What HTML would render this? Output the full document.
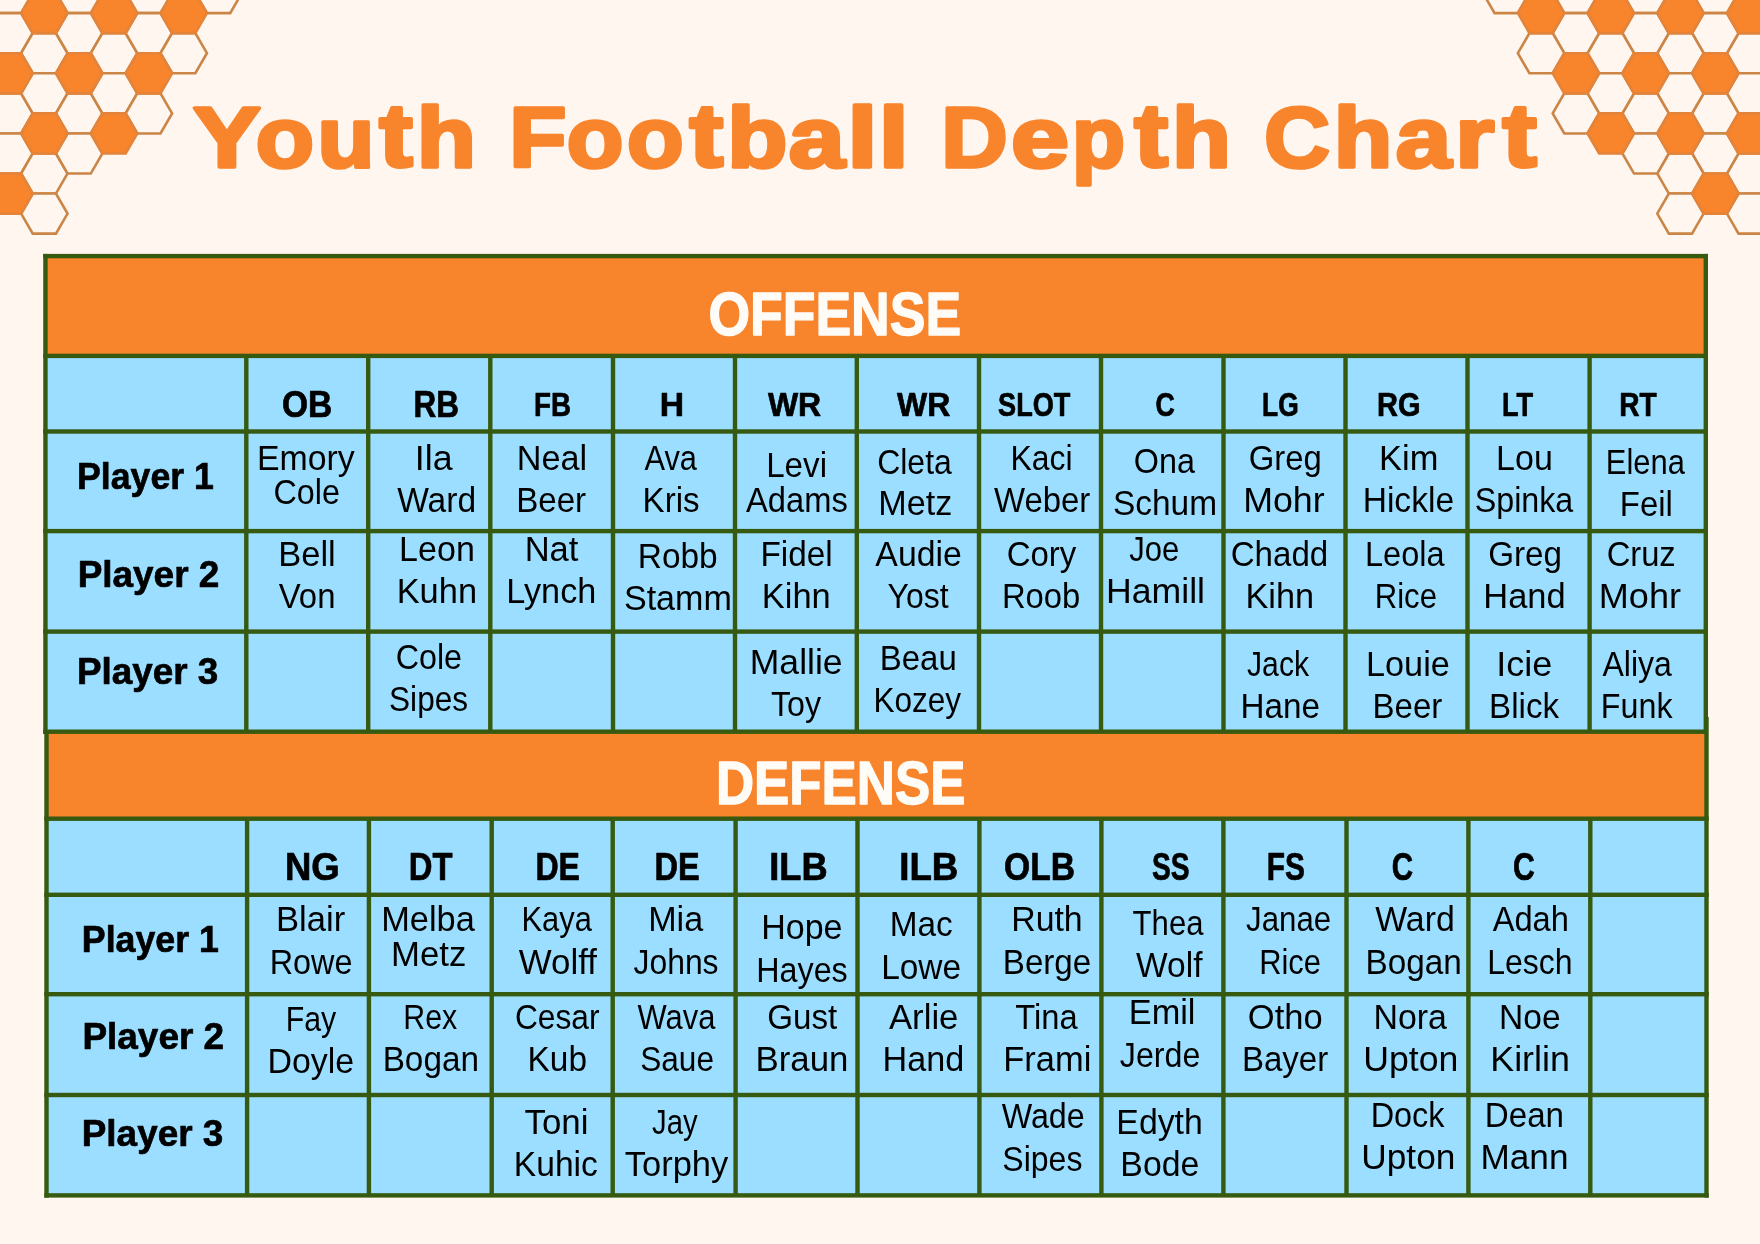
<!DOCTYPE html>
<html><head><meta charset="utf-8"><title>Youth Football Depth Chart</title>
<style>
html,body{margin:0;padding:0;background:#fef6ef;}
body{width:1760px;height:1244px;overflow:hidden;font-family:"Liberation Sans",sans-serif;}
svg{display:block;will-change:transform;}
</style></head><body>
<svg width="1760" height="1244" viewBox="0 0 1760 1244" font-family="Liberation Sans">
<rect x="0" y="0" width="1760" height="1244" fill="#fef6ef"/>
<g stroke="#cb8647" stroke-width="2.6" stroke-linejoin="miter">
<polygon points="-48.55,53.20 -36.95,33.15 -13.75,33.15 -2.15,53.20 -13.75,73.25 -36.95,73.25" fill="#fef6ef"/>
<polygon points="1726.95,53.20 1738.55,33.15 1761.75,33.15 1773.35,53.20 1761.75,73.25 1738.55,73.25" fill="#fef6ef"/>
<polygon points="-48.55,93.30 -36.95,73.25 -13.75,73.25 -2.15,93.30 -13.75,113.35 -36.95,113.35" fill="#fef6ef"/>
<polygon points="1726.95,93.30 1738.55,73.25 1761.75,73.25 1773.35,93.30 1761.75,113.35 1738.55,113.35" fill="#fef6ef"/>
<polygon points="-48.55,173.50 -36.95,153.45 -13.75,153.45 -2.15,173.50 -13.75,193.55 -36.95,193.55" fill="#fef6ef"/>
<polygon points="1726.95,173.50 1738.55,153.45 1761.75,153.45 1773.35,173.50 1761.75,193.55 1738.55,193.55" fill="#fef6ef"/>
<polygon points="-48.55,213.60 -36.95,193.55 -13.75,193.55 -2.15,213.60 -13.75,233.65 -36.95,233.65" fill="#fef6ef"/>
<polygon points="1726.95,213.60 1738.55,193.55 1761.75,193.55 1773.35,213.60 1761.75,233.65 1738.55,233.65" fill="#fef6ef"/>
<polygon points="-13.70,-6.90 -2.10,-26.95 21.10,-26.95 32.70,-6.90 21.10,13.15 -2.10,13.15" fill="#fef6ef"/>
<polygon points="1692.10,-6.90 1703.70,-26.95 1726.90,-26.95 1738.50,-6.90 1726.90,13.15 1703.70,13.15" fill="#fef6ef"/>
<polygon points="-13.70,33.20 -2.10,13.15 21.10,13.15 32.70,33.20 21.10,53.25 -2.10,53.25" fill="#fef6ef"/>
<polygon points="1692.10,33.20 1703.70,13.15 1726.90,13.15 1738.50,33.20 1726.90,53.25 1703.70,53.25" fill="#fef6ef"/>
<polygon points="-13.70,113.40 -2.10,93.35 21.10,93.35 32.70,113.40 21.10,133.45 -2.10,133.45" fill="#fef6ef"/>
<polygon points="1692.10,113.40 1703.70,93.35 1726.90,93.35 1738.50,113.40 1726.90,133.45 1703.70,133.45" fill="#fef6ef"/>
<polygon points="-13.70,153.50 -2.10,133.45 21.10,133.45 32.70,153.50 21.10,173.55 -2.10,173.55" fill="#fef6ef"/>
<polygon points="1692.10,153.50 1703.70,133.45 1726.90,133.45 1738.50,153.50 1726.90,173.55 1703.70,173.55" fill="#fef6ef"/>
<polygon points="21.15,53.20 32.75,33.15 55.95,33.15 67.55,53.20 55.95,73.25 32.75,73.25" fill="#fef6ef"/>
<polygon points="1657.25,53.20 1668.85,33.15 1692.05,33.15 1703.65,53.20 1692.05,73.25 1668.85,73.25" fill="#fef6ef"/>
<polygon points="21.15,93.30 32.75,73.25 55.95,73.25 67.55,93.30 55.95,113.35 32.75,113.35" fill="#fef6ef"/>
<polygon points="1657.25,93.30 1668.85,73.25 1692.05,73.25 1703.65,93.30 1692.05,113.35 1668.85,113.35" fill="#fef6ef"/>
<polygon points="21.15,173.50 32.75,153.45 55.95,153.45 67.55,173.50 55.95,193.55 32.75,193.55" fill="#fef6ef"/>
<polygon points="1657.25,173.50 1668.85,153.45 1692.05,153.45 1703.65,173.50 1692.05,193.55 1668.85,193.55" fill="#fef6ef"/>
<polygon points="21.15,213.60 32.75,193.55 55.95,193.55 67.55,213.60 55.95,233.65 32.75,233.65" fill="#fef6ef"/>
<polygon points="1657.25,213.60 1668.85,193.55 1692.05,193.55 1703.65,213.60 1692.05,233.65 1668.85,233.65" fill="#fef6ef"/>
<polygon points="56.00,-6.90 67.60,-26.95 90.80,-26.95 102.40,-6.90 90.80,13.15 67.60,13.15" fill="#fef6ef"/>
<polygon points="1622.40,-6.90 1634.00,-26.95 1657.20,-26.95 1668.80,-6.90 1657.20,13.15 1634.00,13.15" fill="#fef6ef"/>
<polygon points="56.00,33.20 67.60,13.15 90.80,13.15 102.40,33.20 90.80,53.25 67.60,53.25" fill="#fef6ef"/>
<polygon points="1622.40,33.20 1634.00,13.15 1657.20,13.15 1668.80,33.20 1657.20,53.25 1634.00,53.25" fill="#fef6ef"/>
<polygon points="56.00,113.40 67.60,93.35 90.80,93.35 102.40,113.40 90.80,133.45 67.60,133.45" fill="#fef6ef"/>
<polygon points="1622.40,113.40 1634.00,93.35 1657.20,93.35 1668.80,113.40 1657.20,133.45 1634.00,133.45" fill="#fef6ef"/>
<polygon points="56.00,153.50 67.60,133.45 90.80,133.45 102.40,153.50 90.80,173.55 67.60,173.55" fill="#fef6ef"/>
<polygon points="1622.40,153.50 1634.00,133.45 1657.20,133.45 1668.80,153.50 1657.20,173.55 1634.00,173.55" fill="#fef6ef"/>
<polygon points="90.85,53.20 102.45,33.15 125.65,33.15 137.25,53.20 125.65,73.25 102.45,73.25" fill="#fef6ef"/>
<polygon points="1587.55,53.20 1599.15,33.15 1622.35,33.15 1633.95,53.20 1622.35,73.25 1599.15,73.25" fill="#fef6ef"/>
<polygon points="90.85,93.30 102.45,73.25 125.65,73.25 137.25,93.30 125.65,113.35 102.45,113.35" fill="#fef6ef"/>
<polygon points="1587.55,93.30 1599.15,73.25 1622.35,73.25 1633.95,93.30 1622.35,113.35 1599.15,113.35" fill="#fef6ef"/>
<polygon points="125.70,-6.90 137.30,-26.95 160.50,-26.95 172.10,-6.90 160.50,13.15 137.30,13.15" fill="#fef6ef"/>
<polygon points="1552.70,-6.90 1564.30,-26.95 1587.50,-26.95 1599.10,-6.90 1587.50,13.15 1564.30,13.15" fill="#fef6ef"/>
<polygon points="125.70,33.20 137.30,13.15 160.50,13.15 172.10,33.20 160.50,53.25 137.30,53.25" fill="#fef6ef"/>
<polygon points="1552.70,33.20 1564.30,13.15 1587.50,13.15 1599.10,33.20 1587.50,53.25 1564.30,53.25" fill="#fef6ef"/>
<polygon points="125.70,113.40 137.30,93.35 160.50,93.35 172.10,113.40 160.50,133.45 137.30,133.45" fill="#fef6ef"/>
<polygon points="1552.70,113.40 1564.30,93.35 1587.50,93.35 1599.10,113.40 1587.50,133.45 1564.30,133.45" fill="#fef6ef"/>
<polygon points="160.55,53.20 172.15,33.15 195.35,33.15 206.95,53.20 195.35,73.25 172.15,73.25" fill="#fef6ef"/>
<polygon points="1517.85,53.20 1529.45,33.15 1552.65,33.15 1564.25,53.20 1552.65,73.25 1529.45,73.25" fill="#fef6ef"/>
<polygon points="195.40,-6.90 207.00,-26.95 230.20,-26.95 241.80,-6.90 230.20,13.15 207.00,13.15" fill="#fef6ef"/>
<polygon points="1483.00,-6.90 1494.60,-26.95 1517.80,-26.95 1529.40,-6.90 1517.80,13.15 1494.60,13.15" fill="#fef6ef"/>
<polygon points="-48.55,13.10 -36.95,-6.95 -13.75,-6.95 -2.15,13.10 -13.75,33.15 -36.95,33.15" fill="#f8842c" stroke="#e3843a"/>
<polygon points="1726.95,13.10 1738.55,-6.95 1761.75,-6.95 1773.35,13.10 1761.75,33.15 1738.55,33.15" fill="#f8842c" stroke="#e3843a"/>
<polygon points="-48.55,133.40 -36.95,113.35 -13.75,113.35 -2.15,133.40 -13.75,153.45 -36.95,153.45" fill="#f8842c" stroke="#e3843a"/>
<polygon points="1726.95,133.40 1738.55,113.35 1761.75,113.35 1773.35,133.40 1761.75,153.45 1738.55,153.45" fill="#f8842c" stroke="#e3843a"/>
<polygon points="-13.70,73.30 -2.10,53.25 21.10,53.25 32.70,73.30 21.10,93.35 -2.10,93.35" fill="#f8842c" stroke="#e3843a"/>
<polygon points="1692.10,73.30 1703.70,53.25 1726.90,53.25 1738.50,73.30 1726.90,93.35 1703.70,93.35" fill="#f8842c" stroke="#e3843a"/>
<polygon points="-13.70,193.60 -2.10,173.55 21.10,173.55 32.70,193.60 21.10,213.65 -2.10,213.65" fill="#f8842c" stroke="#e3843a"/>
<polygon points="1692.10,193.60 1703.70,173.55 1726.90,173.55 1738.50,193.60 1726.90,213.65 1703.70,213.65" fill="#f8842c" stroke="#e3843a"/>
<polygon points="21.15,13.10 32.75,-6.95 55.95,-6.95 67.55,13.10 55.95,33.15 32.75,33.15" fill="#f8842c" stroke="#e3843a"/>
<polygon points="1657.25,13.10 1668.85,-6.95 1692.05,-6.95 1703.65,13.10 1692.05,33.15 1668.85,33.15" fill="#f8842c" stroke="#e3843a"/>
<polygon points="21.15,133.40 32.75,113.35 55.95,113.35 67.55,133.40 55.95,153.45 32.75,153.45" fill="#f8842c" stroke="#e3843a"/>
<polygon points="1657.25,133.40 1668.85,113.35 1692.05,113.35 1703.65,133.40 1692.05,153.45 1668.85,153.45" fill="#f8842c" stroke="#e3843a"/>
<polygon points="56.00,73.30 67.60,53.25 90.80,53.25 102.40,73.30 90.80,93.35 67.60,93.35" fill="#f8842c" stroke="#e3843a"/>
<polygon points="1622.40,73.30 1634.00,53.25 1657.20,53.25 1668.80,73.30 1657.20,93.35 1634.00,93.35" fill="#f8842c" stroke="#e3843a"/>
<polygon points="90.85,13.10 102.45,-6.95 125.65,-6.95 137.25,13.10 125.65,33.15 102.45,33.15" fill="#f8842c" stroke="#e3843a"/>
<polygon points="1587.55,13.10 1599.15,-6.95 1622.35,-6.95 1633.95,13.10 1622.35,33.15 1599.15,33.15" fill="#f8842c" stroke="#e3843a"/>
<polygon points="90.85,133.40 102.45,113.35 125.65,113.35 137.25,133.40 125.65,153.45 102.45,153.45" fill="#f8842c" stroke="#e3843a"/>
<polygon points="1587.55,133.40 1599.15,113.35 1622.35,113.35 1633.95,133.40 1622.35,153.45 1599.15,153.45" fill="#f8842c" stroke="#e3843a"/>
<polygon points="125.70,73.30 137.30,53.25 160.50,53.25 172.10,73.30 160.50,93.35 137.30,93.35" fill="#f8842c" stroke="#e3843a"/>
<polygon points="1552.70,73.30 1564.30,53.25 1587.50,53.25 1599.10,73.30 1587.50,93.35 1564.30,93.35" fill="#f8842c" stroke="#e3843a"/>
<polygon points="160.55,13.10 172.15,-6.95 195.35,-6.95 206.95,13.10 195.35,33.15 172.15,33.15" fill="#f8842c" stroke="#e3843a"/>
<polygon points="1517.85,13.10 1529.45,-6.95 1552.65,-6.95 1564.25,13.10 1552.65,33.15 1529.45,33.15" fill="#f8842c" stroke="#e3843a"/>
</g>
<rect x="45.45" y="256.10" width="1660.35" height="99.80" fill="#f8842c"/>
<rect x="45.45" y="355.90" width="1660.35" height="375.80" fill="#9cdeff"/>
<rect x="46.50" y="731.70" width="1660.00" height="87.00" fill="#f8842c"/>
<rect x="46.50" y="818.70" width="1660.00" height="376.70" fill="#9cdeff"/>
<rect x="43.25" y="253.90" width="1664.75" height="4.40" fill="#355a10"/>
<rect x="43.25" y="353.70" width="1664.75" height="4.40" fill="#355a10"/>
<rect x="43.25" y="429.30" width="1664.75" height="4.40" fill="#355a10"/>
<rect x="43.25" y="528.90" width="1664.75" height="4.40" fill="#355a10"/>
<rect x="43.25" y="629.40" width="1664.75" height="4.40" fill="#355a10"/>
<rect x="43.25" y="729.50" width="1664.75" height="4.40" fill="#355a10"/>
<rect x="43.25" y="253.90" width="4.40" height="480.00" fill="#355a10"/>
<rect x="1703.60" y="253.90" width="4.40" height="480.00" fill="#355a10"/>
<rect x="244.10" y="355.90" width="4.40" height="375.80" fill="#355a10"/>
<rect x="366.00" y="355.90" width="4.40" height="375.80" fill="#355a10"/>
<rect x="488.10" y="355.90" width="4.40" height="375.80" fill="#355a10"/>
<rect x="610.80" y="355.90" width="4.40" height="375.80" fill="#355a10"/>
<rect x="732.80" y="355.90" width="4.40" height="375.80" fill="#355a10"/>
<rect x="854.60" y="355.90" width="4.40" height="375.80" fill="#355a10"/>
<rect x="976.80" y="355.90" width="4.40" height="375.80" fill="#355a10"/>
<rect x="1098.80" y="355.90" width="4.40" height="375.80" fill="#355a10"/>
<rect x="1221.30" y="355.90" width="4.40" height="375.80" fill="#355a10"/>
<rect x="1343.30" y="355.90" width="4.40" height="375.80" fill="#355a10"/>
<rect x="1465.30" y="355.90" width="4.40" height="375.80" fill="#355a10"/>
<rect x="1587.40" y="355.90" width="4.40" height="375.80" fill="#355a10"/>
<rect x="44.30" y="816.50" width="1664.40" height="4.40" fill="#355a10"/>
<rect x="44.30" y="892.60" width="1664.40" height="4.40" fill="#355a10"/>
<rect x="44.30" y="992.00" width="1664.40" height="4.40" fill="#355a10"/>
<rect x="44.30" y="1092.80" width="1664.40" height="4.40" fill="#355a10"/>
<rect x="44.30" y="1193.20" width="1664.40" height="4.40" fill="#355a10"/>
<rect x="44.30" y="731.70" width="4.40" height="465.90" fill="#355a10"/>
<rect x="1704.30" y="717.00" width="4.40" height="480.60" fill="#355a10"/>
<rect x="244.90" y="818.70" width="4.40" height="376.70" fill="#355a10"/>
<rect x="366.70" y="818.70" width="4.40" height="376.70" fill="#355a10"/>
<rect x="489.50" y="818.70" width="4.40" height="376.70" fill="#355a10"/>
<rect x="610.50" y="818.70" width="4.40" height="376.70" fill="#355a10"/>
<rect x="733.40" y="818.70" width="4.40" height="376.70" fill="#355a10"/>
<rect x="855.30" y="818.70" width="4.40" height="376.70" fill="#355a10"/>
<rect x="977.20" y="818.70" width="4.40" height="376.70" fill="#355a10"/>
<rect x="1099.20" y="818.70" width="4.40" height="376.70" fill="#355a10"/>
<rect x="1221.20" y="818.70" width="4.40" height="376.70" fill="#355a10"/>
<rect x="1344.30" y="818.70" width="4.40" height="376.70" fill="#355a10"/>
<rect x="1466.20" y="818.70" width="4.40" height="376.70" fill="#355a10"/>
<rect x="1588.10" y="818.70" width="4.40" height="376.70" fill="#355a10"/>
<g font-family="Liberation Sans" font-weight="bold" fill="#f8842c" stroke="#f8842c" stroke-width="3.60" stroke-linejoin="round">
<text x="193.06" y="166.50" font-size="85.90" textLength="67.77" lengthAdjust="spacingAndGlyphs" font-weight="bold">Y</text>
<text x="255.77" y="166.50" font-size="85.90" textLength="58.25" lengthAdjust="spacingAndGlyphs" font-weight="bold">o</text>
<text x="317.42" y="166.50" font-size="85.90" textLength="56.92" lengthAdjust="spacingAndGlyphs" font-weight="bold">u</text>
<text x="379.17" y="166.50" font-size="85.90" textLength="33.45" lengthAdjust="spacingAndGlyphs" font-weight="bold" transform="matrix(1 0 0 1.045 0 -7.492)">t</text>
<text x="416.82" y="166.50" font-size="85.90" textLength="59.30" lengthAdjust="spacingAndGlyphs" font-weight="bold">h</text>
<text x="509.34" y="166.50" font-size="85.90" textLength="57.19" lengthAdjust="spacingAndGlyphs" font-weight="bold">F</text>
<text x="566.88" y="166.50" font-size="85.90" textLength="56.64" lengthAdjust="spacingAndGlyphs" font-weight="bold">o</text>
<text x="627.08" y="166.50" font-size="85.90" textLength="56.64" lengthAdjust="spacingAndGlyphs" font-weight="bold">o</text>
<text x="689.56" y="166.50" font-size="85.90" textLength="33.78" lengthAdjust="spacingAndGlyphs" font-weight="bold" transform="matrix(1 0 0 1.045 0 -7.492)">t</text>
<text x="727.31" y="166.50" font-size="85.90" textLength="60.13" lengthAdjust="spacingAndGlyphs" font-weight="bold">b</text>
<text x="788.85" y="166.50" font-size="85.90" textLength="56.01" lengthAdjust="spacingAndGlyphs" font-weight="bold">a</text>
<text x="847.37" y="166.50" font-size="85.90" textLength="30.37" lengthAdjust="spacingAndGlyphs" font-weight="bold">l</text>
<text x="878.47" y="166.50" font-size="85.90" textLength="30.37" lengthAdjust="spacingAndGlyphs" font-weight="bold">l</text>
<text x="941.15" y="166.50" font-size="85.90" textLength="66.41" lengthAdjust="spacingAndGlyphs" font-weight="bold">D</text>
<text x="1011.02" y="166.50" font-size="85.90" textLength="58.04" lengthAdjust="spacingAndGlyphs" font-weight="bold">e</text>
<text x="1071.88" y="166.50" font-size="85.90" textLength="52.97" lengthAdjust="spacingAndGlyphs" font-weight="bold">p</text>
<text x="1134.16" y="166.50" font-size="85.90" textLength="33.78" lengthAdjust="spacingAndGlyphs" font-weight="bold" transform="matrix(1 0 0 1.045 0 -7.492)">t</text>
<text x="1171.97" y="166.50" font-size="85.90" textLength="58.92" lengthAdjust="spacingAndGlyphs" font-weight="bold">h</text>
<text x="1264.27" y="166.50" font-size="85.90" textLength="65.72" lengthAdjust="spacingAndGlyphs" font-weight="bold">C</text>
<text x="1333.71" y="166.50" font-size="85.90" textLength="58.53" lengthAdjust="spacingAndGlyphs" font-weight="bold">h</text>
<text x="1395.78" y="166.50" font-size="85.90" textLength="55.49" lengthAdjust="spacingAndGlyphs" font-weight="bold">a</text>
<text x="1455.17" y="166.50" font-size="85.90" textLength="39.16" lengthAdjust="spacingAndGlyphs" font-weight="bold">r</text>
<text x="1502.45" y="166.50" font-size="85.90" textLength="34.21" lengthAdjust="spacingAndGlyphs" font-weight="bold" transform="matrix(1 0 0 1.045 0 -7.492)">t</text>
</g>
<g font-family="Liberation Sans" fill="#000">
<text x="257.02" y="469.80" font-size="34.70" textLength="97.74" lengthAdjust="spacingAndGlyphs">Emory</text>
<text x="273.56" y="504.40" font-size="34.70" textLength="66.37" lengthAdjust="spacingAndGlyphs">Cole</text>
<text x="414.80" y="469.80" font-size="34.70" textLength="37.80" lengthAdjust="spacingAndGlyphs">Ila</text>
<text x="397.15" y="512.40" font-size="34.70" textLength="78.98" lengthAdjust="spacingAndGlyphs">Ward</text>
<text x="516.69" y="469.80" font-size="34.70" textLength="70.40" lengthAdjust="spacingAndGlyphs">Neal</text>
<text x="516.18" y="512.40" font-size="34.70" textLength="69.97" lengthAdjust="spacingAndGlyphs">Beer</text>
<text x="644.44" y="469.80" font-size="34.70" textLength="52.56" lengthAdjust="spacingAndGlyphs">Ava</text>
<text x="642.58" y="512.40" font-size="34.70" textLength="57.01" lengthAdjust="spacingAndGlyphs">Kris</text>
<text x="766.18" y="476.70" font-size="34.70" textLength="60.86" lengthAdjust="spacingAndGlyphs">Levi</text>
<text x="746.04" y="511.80" font-size="34.70" textLength="101.75" lengthAdjust="spacingAndGlyphs">Adams</text>
<text x="877.18" y="473.80" font-size="34.70" textLength="74.62" lengthAdjust="spacingAndGlyphs">Cleta</text>
<text x="878.30" y="515.20" font-size="34.70" textLength="74.00" lengthAdjust="spacingAndGlyphs">Metz</text>
<text x="1010.58" y="469.80" font-size="34.70" textLength="62.07" lengthAdjust="spacingAndGlyphs">Kaci</text>
<text x="993.96" y="511.80" font-size="34.70" textLength="96.39" lengthAdjust="spacingAndGlyphs">Weber</text>
<text x="1133.77" y="473.20" font-size="34.70" textLength="61.13" lengthAdjust="spacingAndGlyphs">Ona</text>
<text x="1112.98" y="515.20" font-size="34.70" textLength="104.02" lengthAdjust="spacingAndGlyphs">Schum</text>
<text x="1248.65" y="469.80" font-size="34.70" textLength="73.07" lengthAdjust="spacingAndGlyphs">Greg</text>
<text x="1243.16" y="512.40" font-size="34.70" textLength="81.53" lengthAdjust="spacingAndGlyphs">Mohr</text>
<text x="1379.08" y="469.80" font-size="34.70" textLength="59.29" lengthAdjust="spacingAndGlyphs">Kim</text>
<text x="1362.64" y="512.40" font-size="34.70" textLength="91.45" lengthAdjust="spacingAndGlyphs">Hickle</text>
<text x="1496.11" y="469.80" font-size="34.70" textLength="56.75" lengthAdjust="spacingAndGlyphs">Lou</text>
<text x="1474.74" y="512.40" font-size="34.70" textLength="98.56" lengthAdjust="spacingAndGlyphs">Spinka</text>
<text x="1605.86" y="473.80" font-size="34.70" textLength="79.14" lengthAdjust="spacingAndGlyphs">Elena</text>
<text x="1619.80" y="515.80" font-size="34.70" textLength="53.00" lengthAdjust="spacingAndGlyphs">Feil</text>
<text x="278.27" y="565.80" font-size="34.70" textLength="57.43" lengthAdjust="spacingAndGlyphs">Bell</text>
<text x="278.76" y="608.40" font-size="34.70" textLength="56.71" lengthAdjust="spacingAndGlyphs">Von</text>
<text x="399.11" y="561.30" font-size="34.70" textLength="75.70" lengthAdjust="spacingAndGlyphs">Leon</text>
<text x="396.68" y="602.70" font-size="34.70" textLength="80.36" lengthAdjust="spacingAndGlyphs">Kuhn</text>
<text x="524.66" y="561.30" font-size="34.70" textLength="53.79" lengthAdjust="spacingAndGlyphs">Nat</text>
<text x="506.23" y="602.70" font-size="34.70" textLength="90.06" lengthAdjust="spacingAndGlyphs">Lynch</text>
<text x="637.76" y="567.80" font-size="34.70" textLength="79.95" lengthAdjust="spacingAndGlyphs">Robb</text>
<text x="623.95" y="609.50" font-size="34.70" textLength="107.89" lengthAdjust="spacingAndGlyphs">Stamm</text>
<text x="760.47" y="566.40" font-size="34.70" textLength="72.27" lengthAdjust="spacingAndGlyphs">Fidel</text>
<text x="761.77" y="608.40" font-size="34.70" textLength="68.96" lengthAdjust="spacingAndGlyphs">Kihn</text>
<text x="875.33" y="566.40" font-size="34.70" textLength="86.47" lengthAdjust="spacingAndGlyphs">Audie</text>
<text x="887.53" y="608.40" font-size="34.70" textLength="61.09" lengthAdjust="spacingAndGlyphs">Yost</text>
<text x="1006.63" y="566.40" font-size="34.70" textLength="69.64" lengthAdjust="spacingAndGlyphs">Cory</text>
<text x="1001.91" y="608.40" font-size="34.70" textLength="78.47" lengthAdjust="spacingAndGlyphs">Roob</text>
<text x="1129.21" y="561.30" font-size="34.70" textLength="50.06" lengthAdjust="spacingAndGlyphs">Joe</text>
<text x="1105.98" y="602.70" font-size="34.70" textLength="99.01" lengthAdjust="spacingAndGlyphs">Hamill</text>
<text x="1230.72" y="566.40" font-size="34.70" textLength="97.51" lengthAdjust="spacingAndGlyphs">Chadd</text>
<text x="1245.49" y="608.40" font-size="34.70" textLength="68.64" lengthAdjust="spacingAndGlyphs">Kihn</text>
<text x="1365.03" y="566.40" font-size="34.70" textLength="79.57" lengthAdjust="spacingAndGlyphs">Leola</text>
<text x="1374.75" y="608.40" font-size="34.70" textLength="62.23" lengthAdjust="spacingAndGlyphs">Rice</text>
<text x="1488.13" y="566.40" font-size="34.70" textLength="73.92" lengthAdjust="spacingAndGlyphs">Greg</text>
<text x="1483.27" y="608.40" font-size="34.70" textLength="82.35" lengthAdjust="spacingAndGlyphs">Hand</text>
<text x="1606.64" y="566.40" font-size="34.70" textLength="69.09" lengthAdjust="spacingAndGlyphs">Cruz</text>
<text x="1598.84" y="608.40" font-size="34.70" textLength="82.16" lengthAdjust="spacingAndGlyphs">Mohr</text>
<text x="395.66" y="668.60" font-size="34.70" textLength="66.37" lengthAdjust="spacingAndGlyphs">Cole</text>
<text x="389.07" y="710.70" font-size="34.70" textLength="78.97" lengthAdjust="spacingAndGlyphs">Sipes</text>
<text x="749.79" y="674.30" font-size="34.70" textLength="92.79" lengthAdjust="spacingAndGlyphs">Mallie</text>
<text x="771.02" y="715.50" font-size="34.70" textLength="50.13" lengthAdjust="spacingAndGlyphs">Toy</text>
<text x="879.80" y="670.00" font-size="34.70" textLength="76.99" lengthAdjust="spacingAndGlyphs">Beau</text>
<text x="873.41" y="711.80" font-size="34.70" textLength="87.75" lengthAdjust="spacingAndGlyphs">Kozey</text>
<text x="1247.03" y="676.10" font-size="34.70" textLength="62.03" lengthAdjust="spacingAndGlyphs">Jack</text>
<text x="1240.47" y="717.80" font-size="34.70" textLength="79.51" lengthAdjust="spacingAndGlyphs">Hane</text>
<text x="1365.99" y="676.10" font-size="34.70" textLength="83.83" lengthAdjust="spacingAndGlyphs">Louie</text>
<text x="1372.59" y="717.80" font-size="34.70" textLength="69.76" lengthAdjust="spacingAndGlyphs">Beer</text>
<text x="1496.18" y="676.10" font-size="34.70" textLength="56.02" lengthAdjust="spacingAndGlyphs">Icie</text>
<text x="1489.08" y="717.80" font-size="34.70" textLength="69.97" lengthAdjust="spacingAndGlyphs">Blick</text>
<text x="1602.44" y="676.10" font-size="34.70" textLength="69.46" lengthAdjust="spacingAndGlyphs">Aliya</text>
<text x="1600.85" y="717.80" font-size="34.70" textLength="71.70" lengthAdjust="spacingAndGlyphs">Funk</text>
<text x="276.06" y="931.40" font-size="34.70" textLength="69.21" lengthAdjust="spacingAndGlyphs">Blair</text>
<text x="269.64" y="974.10" font-size="34.70" textLength="82.80" lengthAdjust="spacingAndGlyphs">Rowe</text>
<text x="381.18" y="931.40" font-size="34.70" textLength="93.62" lengthAdjust="spacingAndGlyphs">Melba</text>
<text x="391.05" y="965.50" font-size="34.70" textLength="75.28" lengthAdjust="spacingAndGlyphs">Metz</text>
<text x="521.47" y="931.40" font-size="34.70" textLength="70.43" lengthAdjust="spacingAndGlyphs">Kaya</text>
<text x="518.75" y="974.10" font-size="34.70" textLength="78.20" lengthAdjust="spacingAndGlyphs">Wolff</text>
<text x="648.20" y="931.40" font-size="34.70" textLength="55.00" lengthAdjust="spacingAndGlyphs">Mia</text>
<text x="633.50" y="974.10" font-size="34.70" textLength="85.05" lengthAdjust="spacingAndGlyphs">Johns</text>
<text x="761.21" y="939.00" font-size="34.70" textLength="81.30" lengthAdjust="spacingAndGlyphs">Hope</text>
<text x="756.25" y="981.80" font-size="34.70" textLength="91.52" lengthAdjust="spacingAndGlyphs">Hayes</text>
<text x="889.66" y="936.20" font-size="34.70" textLength="63.02" lengthAdjust="spacingAndGlyphs">Mac</text>
<text x="881.15" y="978.80" font-size="34.70" textLength="80.03" lengthAdjust="spacingAndGlyphs">Lowe</text>
<text x="1011.22" y="931.40" font-size="34.70" textLength="71.47" lengthAdjust="spacingAndGlyphs">Ruth</text>
<text x="1002.78" y="974.10" font-size="34.70" textLength="88.49" lengthAdjust="spacingAndGlyphs">Berge</text>
<text x="1132.60" y="934.80" font-size="34.70" textLength="70.90" lengthAdjust="spacingAndGlyphs">Thea</text>
<text x="1136.05" y="977.40" font-size="34.70" textLength="66.50" lengthAdjust="spacingAndGlyphs">Wolf</text>
<text x="1246.11" y="931.40" font-size="34.70" textLength="85.08" lengthAdjust="spacingAndGlyphs">Janae</text>
<text x="1259.17" y="974.10" font-size="34.70" textLength="61.81" lengthAdjust="spacingAndGlyphs">Rice</text>
<text x="1375.15" y="931.40" font-size="34.70" textLength="79.59" lengthAdjust="spacingAndGlyphs">Ward</text>
<text x="1365.47" y="974.10" font-size="34.70" textLength="96.29" lengthAdjust="spacingAndGlyphs">Bogan</text>
<text x="1492.64" y="931.40" font-size="34.70" textLength="76.29" lengthAdjust="spacingAndGlyphs">Adah</text>
<text x="1487.17" y="974.10" font-size="34.70" textLength="85.40" lengthAdjust="spacingAndGlyphs">Lesch</text>
<text x="285.71" y="1030.80" font-size="34.70" textLength="50.55" lengthAdjust="spacingAndGlyphs">Fay</text>
<text x="267.52" y="1073.40" font-size="34.70" textLength="86.69" lengthAdjust="spacingAndGlyphs">Doyle</text>
<text x="403.31" y="1028.50" font-size="34.70" textLength="53.91" lengthAdjust="spacingAndGlyphs">Rex</text>
<text x="382.67" y="1071.30" font-size="34.70" textLength="96.29" lengthAdjust="spacingAndGlyphs">Bogan</text>
<text x="514.99" y="1028.50" font-size="34.70" textLength="84.54" lengthAdjust="spacingAndGlyphs">Cesar</text>
<text x="527.56" y="1071.30" font-size="34.70" textLength="59.44" lengthAdjust="spacingAndGlyphs">Kub</text>
<text x="637.57" y="1028.50" font-size="34.70" textLength="77.93" lengthAdjust="spacingAndGlyphs">Wava</text>
<text x="640.16" y="1071.30" font-size="34.70" textLength="73.84" lengthAdjust="spacingAndGlyphs">Saue</text>
<text x="767.23" y="1028.50" font-size="34.70" textLength="70.01" lengthAdjust="spacingAndGlyphs">Gust</text>
<text x="755.44" y="1071.30" font-size="34.70" textLength="92.92" lengthAdjust="spacingAndGlyphs">Braun</text>
<text x="888.93" y="1028.50" font-size="34.70" textLength="69.51" lengthAdjust="spacingAndGlyphs">Arlie</text>
<text x="882.50" y="1071.30" font-size="34.70" textLength="81.71" lengthAdjust="spacingAndGlyphs">Hand</text>
<text x="1015.28" y="1028.50" font-size="34.70" textLength="62.32" lengthAdjust="spacingAndGlyphs">Tina</text>
<text x="1003.27" y="1071.30" font-size="34.70" textLength="88.05" lengthAdjust="spacingAndGlyphs">Frami</text>
<text x="1128.79" y="1024.30" font-size="34.70" textLength="66.71" lengthAdjust="spacingAndGlyphs">Emil</text>
<text x="1119.80" y="1066.60" font-size="34.70" textLength="80.53" lengthAdjust="spacingAndGlyphs">Jerde</text>
<text x="1247.86" y="1028.50" font-size="34.70" textLength="74.89" lengthAdjust="spacingAndGlyphs">Otho</text>
<text x="1241.89" y="1071.30" font-size="34.70" textLength="86.26" lengthAdjust="spacingAndGlyphs">Bayer</text>
<text x="1373.42" y="1028.50" font-size="34.70" textLength="73.48" lengthAdjust="spacingAndGlyphs">Nora</text>
<text x="1363.25" y="1071.30" font-size="34.70" textLength="95.06" lengthAdjust="spacingAndGlyphs">Upton</text>
<text x="1499.05" y="1028.50" font-size="34.70" textLength="61.54" lengthAdjust="spacingAndGlyphs">Noe</text>
<text x="1490.26" y="1071.30" font-size="34.70" textLength="79.67" lengthAdjust="spacingAndGlyphs">Kirlin</text>
<text x="524.46" y="1133.60" font-size="34.70" textLength="63.95" lengthAdjust="spacingAndGlyphs">Toni</text>
<text x="513.84" y="1176.25" font-size="34.70" textLength="84.04" lengthAdjust="spacingAndGlyphs">Kuhic</text>
<text x="652.04" y="1133.60" font-size="34.70" textLength="45.62" lengthAdjust="spacingAndGlyphs">Jay</text>
<text x="624.75" y="1176.25" font-size="34.70" textLength="103.51" lengthAdjust="spacingAndGlyphs">Torphy</text>
<text x="1001.66" y="1128.00" font-size="34.70" textLength="83.05" lengthAdjust="spacingAndGlyphs">Wade</text>
<text x="1002.35" y="1170.60" font-size="34.70" textLength="80.11" lengthAdjust="spacingAndGlyphs">Sipes</text>
<text x="1116.33" y="1134.20" font-size="34.70" textLength="86.47" lengthAdjust="spacingAndGlyphs">Edyth</text>
<text x="1120.33" y="1175.60" font-size="34.70" textLength="78.98" lengthAdjust="spacingAndGlyphs">Bode</text>
<text x="1370.64" y="1126.90" font-size="34.70" textLength="73.91" lengthAdjust="spacingAndGlyphs">Dock</text>
<text x="1361.28" y="1169.20" font-size="34.70" textLength="94.11" lengthAdjust="spacingAndGlyphs">Upton</text>
<text x="1484.78" y="1126.90" font-size="34.70" textLength="79.27" lengthAdjust="spacingAndGlyphs">Dean</text>
<text x="1480.41" y="1169.20" font-size="34.70" textLength="88.07" lengthAdjust="spacingAndGlyphs">Mann</text>
<text x="281.97" y="417.35" font-size="37.08" textLength="50.30" lengthAdjust="spacingAndGlyphs" font-weight="bold" stroke="#000" stroke-width="0.70" stroke-linejoin="round">OB</text>
<text x="413.54" y="417.35" font-size="37.08" textLength="45.54" lengthAdjust="spacingAndGlyphs" font-weight="bold" stroke="#000" stroke-width="0.70" stroke-linejoin="round">RB</text>
<text x="533.99" y="416.05" font-size="33.88" textLength="37.02" lengthAdjust="spacingAndGlyphs" font-weight="bold" stroke="#000" stroke-width="0.70" stroke-linejoin="round">FB</text>
<text x="659.70" y="416.05" font-size="33.88" textLength="24.32" lengthAdjust="spacingAndGlyphs" font-weight="bold" stroke="#000" stroke-width="0.70" stroke-linejoin="round">H</text>
<text x="767.92" y="416.05" font-size="33.88" textLength="53.29" lengthAdjust="spacingAndGlyphs" font-weight="bold" stroke="#000" stroke-width="0.70" stroke-linejoin="round">WR</text>
<text x="897.02" y="416.05" font-size="33.88" textLength="53.29" lengthAdjust="spacingAndGlyphs" font-weight="bold" stroke="#000" stroke-width="0.70" stroke-linejoin="round">WR</text>
<text x="998.07" y="416.05" font-size="33.88" textLength="72.37" lengthAdjust="spacingAndGlyphs" font-weight="bold" stroke="#000" stroke-width="0.70" stroke-linejoin="round">SLOT</text>
<text x="1155.45" y="416.05" font-size="33.88" textLength="19.33" lengthAdjust="spacingAndGlyphs" font-weight="bold" stroke="#000" stroke-width="0.70" stroke-linejoin="round">C</text>
<text x="1262.09" y="416.05" font-size="33.88" textLength="36.60" lengthAdjust="spacingAndGlyphs" font-weight="bold" stroke="#000" stroke-width="0.70" stroke-linejoin="round">LG</text>
<text x="1377.11" y="416.05" font-size="33.88" textLength="43.54" lengthAdjust="spacingAndGlyphs" font-weight="bold" stroke="#000" stroke-width="0.70" stroke-linejoin="round">RG</text>
<text x="1502.04" y="416.05" font-size="33.88" textLength="31.18" lengthAdjust="spacingAndGlyphs" font-weight="bold" stroke="#000" stroke-width="0.70" stroke-linejoin="round">LT</text>
<text x="1619.17" y="416.05" font-size="33.88" textLength="37.48" lengthAdjust="spacingAndGlyphs" font-weight="bold" stroke="#000" stroke-width="0.70" stroke-linejoin="round">RT</text>
<text x="284.91" y="879.95" font-size="37.98" textLength="54.81" lengthAdjust="spacingAndGlyphs" font-weight="bold" stroke="#000" stroke-width="0.70" stroke-linejoin="round">NG</text>
<text x="408.85" y="879.95" font-size="37.98" textLength="43.75" lengthAdjust="spacingAndGlyphs" font-weight="bold" stroke="#000" stroke-width="0.70" stroke-linejoin="round">DT</text>
<text x="535.40" y="879.95" font-size="37.98" textLength="44.60" lengthAdjust="spacingAndGlyphs" font-weight="bold" stroke="#000" stroke-width="0.70" stroke-linejoin="round">DE</text>
<text x="654.47" y="879.95" font-size="37.98" textLength="45.25" lengthAdjust="spacingAndGlyphs" font-weight="bold" stroke="#000" stroke-width="0.70" stroke-linejoin="round">DE</text>
<text x="769.23" y="879.95" font-size="37.98" textLength="58.37" lengthAdjust="spacingAndGlyphs" font-weight="bold" stroke="#000" stroke-width="0.70" stroke-linejoin="round">ILB</text>
<text x="899.19" y="879.95" font-size="37.98" textLength="59.12" lengthAdjust="spacingAndGlyphs" font-weight="bold" stroke="#000" stroke-width="0.70" stroke-linejoin="round">ILB</text>
<text x="1003.97" y="879.95" font-size="37.98" textLength="71.01" lengthAdjust="spacingAndGlyphs" font-weight="bold" stroke="#000" stroke-width="0.70" stroke-linejoin="round">OLB</text>
<text x="1152.04" y="879.95" font-size="37.98" textLength="37.61" lengthAdjust="spacingAndGlyphs" font-weight="bold" stroke="#000" stroke-width="0.70" stroke-linejoin="round">SS</text>
<text x="1266.75" y="879.95" font-size="37.98" textLength="38.16" lengthAdjust="spacingAndGlyphs" font-weight="bold" stroke="#000" stroke-width="0.70" stroke-linejoin="round">FS</text>
<text x="1391.84" y="879.95" font-size="37.98" textLength="21.32" lengthAdjust="spacingAndGlyphs" font-weight="bold" stroke="#000" stroke-width="0.70" stroke-linejoin="round">C</text>
<text x="1513.01" y="879.95" font-size="37.98" textLength="21.76" lengthAdjust="spacingAndGlyphs" font-weight="bold" stroke="#000" stroke-width="0.70" stroke-linejoin="round">C</text>
<text x="77.07" y="488.75" font-size="37.38" textLength="136.78" lengthAdjust="spacingAndGlyphs" font-weight="bold" stroke="#000" stroke-width="0.70" stroke-linejoin="round">Player 1</text>
<text x="77.68" y="586.55" font-size="37.38" textLength="141.65" lengthAdjust="spacingAndGlyphs" font-weight="bold" stroke="#000" stroke-width="0.70" stroke-linejoin="round">Player 2</text>
<text x="76.99" y="683.55" font-size="37.38" textLength="141.29" lengthAdjust="spacingAndGlyphs" font-weight="bold" stroke="#000" stroke-width="0.70" stroke-linejoin="round">Player 3</text>
<text x="81.86" y="951.65" font-size="37.38" textLength="136.98" lengthAdjust="spacingAndGlyphs" font-weight="bold" stroke="#000" stroke-width="0.70" stroke-linejoin="round">Player 1</text>
<text x="82.38" y="1048.95" font-size="37.38" textLength="141.75" lengthAdjust="spacingAndGlyphs" font-weight="bold" stroke="#000" stroke-width="0.70" stroke-linejoin="round">Player 2</text>
<text x="81.78" y="1146.15" font-size="37.38" textLength="141.50" lengthAdjust="spacingAndGlyphs" font-weight="bold" stroke="#000" stroke-width="0.70" stroke-linejoin="round">Player 3</text>
<text x="708.41" y="334.60" font-size="60.97" textLength="252.68" lengthAdjust="spacingAndGlyphs" font-weight="bold" fill="#fffcf7" stroke="#fffcf7" stroke-width="1.40" stroke-linejoin="round">OFFENSE</text>
<text x="715.97" y="804.20" font-size="60.37" textLength="249.39" lengthAdjust="spacingAndGlyphs" font-weight="bold" fill="#fffcf7" stroke="#fffcf7" stroke-width="1.40" stroke-linejoin="round">DEFENSE</text>
</g>
</svg>
</body></html>
